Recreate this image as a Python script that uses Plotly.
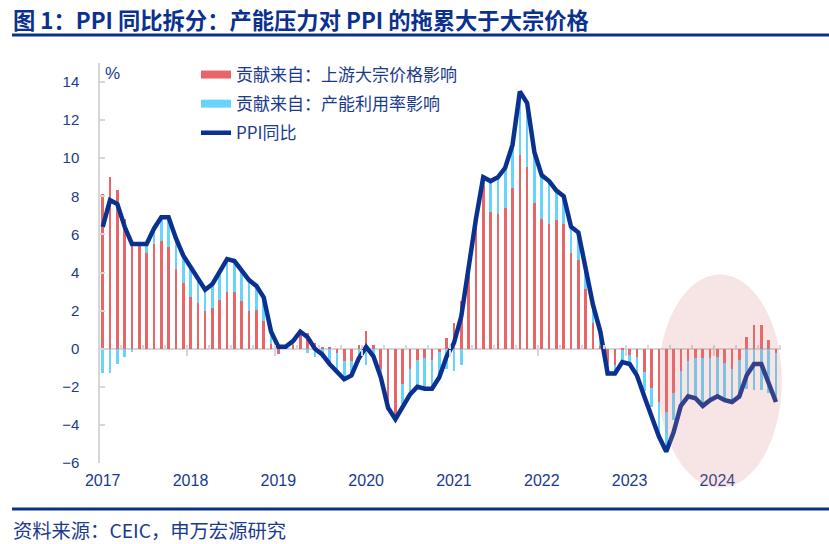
import plotly.graph_objects as go

# ---------------- data (monthly, 2017-01 .. 2024-09) ----------------
months = [f"{y}-{m:02d}" for y in range(2017, 2025) for m in range(1, 13)][:93]

upstream = [8.1, 9.0, 8.35, 6.8, 5.65, 5.5, 5.05, 5.5, 5.65, 5.35, 4.2, 3.45,
            2.7, 2.4, 2.0, 2.15, 2.55, 3.0, 3.0, 2.5, 2.0, 2.05, 1.45, 0.25,
            -0.3, 0.05, 0.2, 0.75, 0.8, 0.3, 0.1, 0.05, -0.25, -0.65, -0.65, 0.2,
            0.95, 0.17, -1.05, -3.05, -3.6, -1.85, -1.05, -0.6, -0.5, -0.6, -0.17, 0.58,
            1.35, 2.5, 4.4, 6.4, 8.6, 7.2, 7.05, 7.4, 8.45, 10.15, 9.55, 7.65,
            6.8, 6.55, 6.75, 6.55, 5.05, 4.65, 3.15, 1.35, 0.15, -0.8, -0.87, -0.05,
            -0.35, -0.45, -1.2, -2.05, -2.8, -3.3, -2.35, -1.15, -0.65, -0.5, -0.5, -0.5,
            -0.45, -0.75, -1.05, -0.6, 0.6, 1.25, 1.25, 0.45, -0.25]

capacity = [-1.25, -1.25, -0.8, -0.45, -0.15, 0.0, 0.4, 0.8, 1.25, 1.55, 1.6, 1.45,
            1.6, 1.3, 1.1, 1.25, 1.55, 1.7, 1.6, 1.6, 1.6, 1.25, 1.25, 0.65,
            0.1, 0.05, 0.15, 0.15, -0.25, -0.45, -0.5, -0.8, -0.95, -0.85, -0.6, -0.7,
            -0.85, -0.45, -0.45, -0.05, -0.1, -1.05, -1.3, -1.4, -1.5, -1.4, -1.3, -1.05,
            -1.15, -0.87, 0.0, 0.4, 0.4, 1.6, 1.95, 2.1, 2.25, 3.35, 3.35, 2.65,
            2.3, 2.25, 1.55, 1.45, 1.35, 1.45, 1.05, 0.95, 0.75, -0.5, -0.35, -0.6,
            -0.45, -0.9, -1.0, -1.0, -1.8, -1.9, -1.4, -1.75, -1.9, -2.05, -2.45, -2.2,
            -2.05, -2.0, -1.75, -2.05, -2.1, -2.15, -2.15, -2.3, -2.55]

ppi_yoy = [6.4, 7.8, 7.6, 6.4, 5.5, 5.5, 5.5, 6.3, 6.9, 6.9, 5.8, 4.9,
           4.3, 3.7, 3.1, 3.4, 4.1, 4.7, 4.6, 4.1, 3.6, 3.3, 2.7, 0.9,
           0.1, 0.1, 0.4, 0.9, 0.6, 0.0, -0.3, -0.8, -1.2, -1.6, -1.4, -0.5,
           0.1, -0.4, -1.5, -3.1, -3.7, -3.0, -2.4, -2.0, -2.1, -2.1, -1.5, -0.4,
           0.3, 1.7, 4.4, 6.8, 9.0, 8.8, 9.0, 9.5, 10.7, 13.5, 12.9, 10.3,
           9.1, 8.8, 8.3, 8.0, 6.4, 6.1, 4.2, 2.3, 0.9, -1.3, -1.3, -0.7,
           -0.8, -1.4, -2.5, -3.6, -4.6, -5.4, -4.4, -3.0, -2.5, -2.6, -3.0, -2.7,
           -2.5, -2.7, -2.8, -2.5, -1.4, -0.8, -0.8, -1.8, -2.8]

year_labels = ["2017", "2018", "2019", "2020", "2021", "2022", "2023", "2024"]
y_ticks = [-6, -4, -2, 0, 2, 4, 6, 8, 10, 12, 14]

names = ["贡献来自：上游大宗价格影响", "贡献来自：产能利用率影响", "PPI同比"]
title_text = "图 1：PPI 同比拆分：产能压力对 PPI 的拖累大于大宗价格"
source_text = "资料来源：CEIC，申万宏源研究"

# ---------------- styling ----------------
RED = "#E96668"
BLUE = "#68D3FB"
NAVY = "#0B3190"
TXT = "#1A3A8C"
GRAY = "#D6D6D6"
CJK = "Noto Sans CJK SC"
LAT = "Liberation Sans, Arial"

idx = list(range(len(months)))
X_RANGE = [-0.37, 92.69]
Y_RANGE = [-6, 15]

fig = go.Figure()
fig.add_trace(go.Bar(x=idx, y=upstream, marker=dict(color=RED, line=dict(width=0)),
                     width=0.36, showlegend=False, name=names[0]))
fig.add_trace(go.Bar(x=idx, y=capacity, marker=dict(color=BLUE, line=dict(width=0)),
                     width=0.36, showlegend=False, name=names[1]))
fig.add_trace(go.Scatter(x=idx, y=ppi_yoy, mode="lines", name=names[2],
                         line=dict(color=NAVY, width=4.5), legendgroup="c", legendrank=3))
# legend-only entries for bars (wide bar-like swatches)
fig.add_trace(go.Scatter(x=[None], y=[None], mode="lines", name=names[0],
                         line=dict(color=RED, width=8), legendgroup="a", legendrank=1))
fig.add_trace(go.Scatter(x=[None], y=[None], mode="lines", name=names[1],
                         line=dict(color=BLUE, width=8), legendgroup="b", legendrank=2))
# helper trace on the tick axis at the zero line
fig.add_trace(go.Scatter(x=[None], y=[None], xaxis="x2", yaxis="y", showlegend=False,
                         hoverinfo="skip"))

year_pos = [i * 12 for i in range(len(year_labels))]

fig.update_layout(
    width=829, height=544, autosize=False,
    margin=dict(l=100, r=48, t=63, b=81),
    paper_bgcolor="white", plot_bgcolor="white",
    barmode="relative", bargap=0,
    xaxis=dict(range=X_RANGE, tickmode="array", tickvals=year_pos, ticktext=year_labels,
               showgrid=False, zeroline=False, showline=False, ticks="",
               tickfont=dict(family=LAT, size=16, color=TXT), ticklabelstandoff=6),
    xaxis2=dict(range=X_RANGE, overlaying="x", anchor="free", position=6 / 21,
                showticklabels=False, showgrid=False, zeroline=False, showline=False,
                tickmode="linear", tick0=11.5, dtick=12, ticks="outside", ticklen=6,
                tickwidth=1.5, tickcolor=GRAY,
                minor=dict(tickmode="linear", tick0=-0.5, dtick=3, ticks="inside",
                           ticklen=4, tickwidth=1.5, tickcolor=GRAY)),
    yaxis=dict(range=Y_RANGE, tickmode="array", tickvals=y_ticks,
               showgrid=False, zeroline=True, zerolinecolor=GRAY, zerolinewidth=2,
               showline=True, linecolor=GRAY, linewidth=1.5,
               ticks="inside", ticklen=5, tickcolor=GRAY, tickwidth=1.5,
               tickfont=dict(family=LAT, size=15, color=TXT), ticklabelstandoff=16),
    legend=dict(x=(196 - 100) / 681, y=(463 - 57) / 400, xanchor="left", yanchor="top",
                bgcolor="rgba(0,0,0,0)", traceorder="grouped", tracegroupgap=4,
                font=dict(family=CJK, size=17, color=TXT)),
    showlegend=True,
)

# highlighted region (ellipse) over 2023H2-2024
ex0, ex1, ey0, ey1 = 75.9, 92.8, -7.3, 3.9
def xd(v):
    return (v - X_RANGE[0]) / (X_RANGE[1] - X_RANGE[0])
def yd(v):
    return (v - Y_RANGE[0]) / (Y_RANGE[1] - Y_RANGE[0])
fig.add_shape(type="circle", xref="x domain", yref="y domain",
              x0=xd(ex0), x1=xd(ex1), y0=yd(ey0), y1=yd(ey1),
              fillcolor="rgba(217,126,126,0.2)", line=dict(width=0), layer="above")

# title, rules and source
def px_x(p):
    return (p - 100) / 681
def px_y(p):
    return (463 - p) / 400

fig.add_annotation(xref="paper", yref="paper", x=px_x(11), y=px_y(19),
                   xanchor="left", yanchor="middle", showarrow=False,
                   text=f"<b>{title_text}</b>",
                   font=dict(family=CJK, size=22.3, color=NAVY))
fig.add_shape(type="line", xref="paper", yref="paper", x0=px_x(12), x1=px_x(829),
              y0=px_y(35), y1=px_y(35), line=dict(color=NAVY, width=3))
fig.add_shape(type="line", xref="paper", yref="paper", x0=px_x(12), x1=px_x(829),
              y0=px_y(509), y1=px_y(509), line=dict(color=NAVY, width=3))
fig.add_annotation(xref="paper", yref="paper", x=px_x(11), y=px_y(530),
                   xanchor="left", yanchor="middle", showarrow=False,
                   text=source_text, font=dict(family=CJK, size=19.3, color=TXT))
fig.add_annotation(xref="paper", yref="paper", x=px_x(103), y=px_y(74),
                   xanchor="left", yanchor="middle", showarrow=False,
                   text="%", font=dict(family=LAT, size=17, color=TXT))

fig.write_html("out.html", config={"displayModeBar": False},
               post_script="document.body.style.margin='0';")
